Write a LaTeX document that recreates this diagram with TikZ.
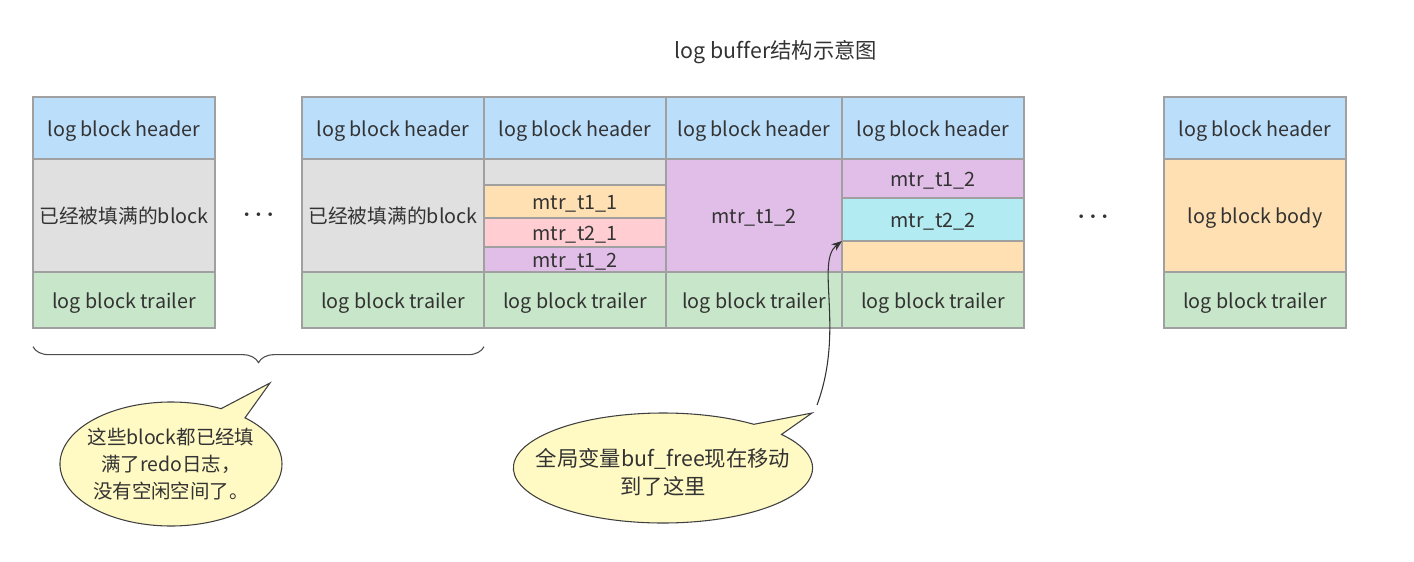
\documentclass[tikz,border=0pt]{standalone}
\usepackage{fontspec}
\setmainfont{Noto Sans CJK SC}[Ligatures=NoCommon]
\usepackage{xcolor}
\usepackage{tikz}
\usetikzlibrary{positioning,calc,shapes.callouts,decorations.pathreplacing,arrows.meta}
\definecolor{lbline}{HTML}{A0A0A0}
\definecolor{lbtext}{HTML}{333333}
\definecolor{lbhead}{HTML}{BBDEFB}
\definecolor{lbfull}{HTML}{E0E0E0}
\definecolor{lbtrail}{HTML}{C8E6C9}
\definecolor{lbbody}{HTML}{FFE0B2}
\definecolor{lbpink}{HTML}{FFCDD2}
\definecolor{lbpurple}{HTML}{E1BEE7}
\definecolor{lbcyan}{HTML}{B2EBF2}
\definecolor{lbnote}{HTML}{FFF9C4}

\begin{document}
\begin{tikzpicture}[x=0.75pt, y=-0.75pt,
  font=\fontsize{14.8}{18}\selectfont\color{lbtext},
  cell/.style={draw=lbline, line width=0.8pt, minimum width=136.5pt,
               inner sep=0pt, outer sep=0pt, text height=14pt, text depth=2pt},
  narrow/.style={minimum width=132pt},
  head/.style={cell, fill=lbhead, minimum height=46.5pt},
  body/.style={cell, minimum height=84.75pt},
  trail/.style={cell, fill=lbtrail, minimum height=42pt},
  dots/.style={font=\fontsize{17}{17}\selectfont\boldmath\color{lbtext}},
  note/.style={ellipse callout, draw=black!75, fill=lbnote, line width=0.8pt,
               align=center, inner ysep=-4pt}]
  \useasboundingbox (0,0) rectangle (1414,561);
  \node[font=\fontsize{16}{18}\selectfont\color{lbtext}] at (776,52) (title) {log buffer结构示意图};
  % filled blocks
  \node[head, anchor=north west] at (33,97) (h1) {log block header};
  \node[body, fill=lbfull, below=0pt of h1] (b1) {已经被填满的block};
  \node[trail, below=0pt of b1] (t1) {log block trailer};
  \node[head, anchor=north west] at (302,97) (h2) {log block header};
  \node[body, fill=lbfull, below=0pt of h2] (b2) {已经被填满的block};
  \node[trail, below=0pt of b2] (t2) {log block trailer};
  % block with several mtr groups
  \node[head, right=0pt of h2] (h3) {log block header};
  \node[cell, fill=lbfull, minimum height=19.5pt, below=0pt of h3] (c3a) {};
  \node[cell, fill=lbbody, minimum height=24.75pt, below=0pt of c3a] (c3b) {mtr\_t1\_1};
  \node[cell, fill=lbpink, minimum height=21.75pt, below=0pt of c3b] (c3c) {mtr\_t2\_1};
  \node[cell, fill=lbpurple, minimum height=18.75pt, below=0pt of c3c] (c3d) {mtr\_t1\_2};
  \node[trail, below=0pt of c3d] (t3) {log block trailer};
  \node[head, narrow, right=0pt of h3] (h4) {log block header};
  \node[body, narrow, fill=lbpurple, below=0pt of h4] (b4) {mtr\_t1\_2};
  \node[trail, narrow, below=0pt of b4] (t4) {log block trailer};
  \node[head, right=0pt of h4] (h5) {log block header};
  \node[cell, fill=lbpurple, minimum height=29.25pt, below=0pt of h5] (c5a) {mtr\_t1\_2};
  \node[cell, fill=lbcyan, minimum height=32.25pt, below=0pt of c5a] (c5b) {mtr\_t2\_2};
  \node[cell, fill=lbbody, minimum height=23.25pt, below=0pt of c5b] (c5c) {};
  \node[trail, below=0pt of c5c] (t5) {log block trailer};
  % last block
  \node[head, anchor=north west] at (1164,97) (h6) {log block header};
  \node[body, fill=lbbody, below=0pt of h6] (b6) {log block body};
  \node[trail, below=0pt of b6] (t6) {log block trailer};
  \node[dots] at ($(b1.east)!0.5!(b2.west)$) (dots1) {$\cdots$};
  \node[dots] at (1093,217) (dots2) {$\cdots$};
  % brace and notes
  \draw[draw=black!70, line width=0.8pt, decorate,
        decoration={brace, mirror, amplitude=12pt}]
    ([yshift=-14pt]t1.south west) -- ([yshift=-14pt]t2.south east);
  \node[note, inner xsep=-4pt, minimum width=166.5pt, minimum height=93pt,
        font=\fontsize{14.6}{20}\selectfont\color{lbtext},
        callout absolute pointer={(270,383)}] at (171,464) (full)
    {这些block都已经填\\满了redo日志，\\没有空闲空间了。};
  \node[note, inner xsep=-16pt, minimum width=222.75pt, minimum height=82.5pt,
        font=\fontsize{16}{21}\selectfont\color{lbtext},
        callout absolute pointer={(812,413)}] at (663,468) (buffree)
    {\rule{0pt}{20pt}全局变量buf\_free现在移动\\到了这里};
  \coordinate (bfstart) at (817,405);
  \draw[-{Stealth[length=8pt,width=6pt]}, draw=black!80, line width=0.8pt]
    (bfstart) .. controls (845,330) and (815,262) .. (c5c.north west);
\end{tikzpicture}
\end{document}
